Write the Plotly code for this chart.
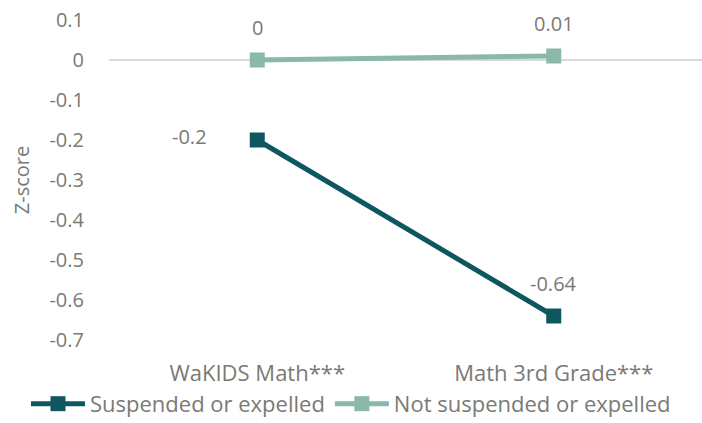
import plotly.graph_objects as go

categories = ["WaKIDS Math***", "Math 3rd Grade***"]
suspended = [-0.2, -0.64]
not_suspended = [0.0, 0.01]
suspended_labels = ["-0.2", "-0.64"]
not_suspended_labels = ["0", "0.01"]
y_ticks = [0.1, 0, -0.1, -0.2, -0.3, -0.4, -0.5, -0.6, -0.7]

DARK = "#0E5761"
LIGHT = "#8AB8AB"
GREY = "#7A7A75"
FONT = "Open Sans"

fig = go.Figure()
fig.add_trace(go.Scatter(
    x=categories, y=suspended, name="Suspended or expelled",
    mode="lines+markers",
    line=dict(color=DARK, width=5),
    marker=dict(symbol="square", size=15, color=DARK),
))
fig.add_trace(go.Scatter(
    x=categories, y=not_suspended, name="Not suspended or expelled",
    mode="lines+markers",
    line=dict(color=LIGHT, width=5),
    marker=dict(symbol="square", size=15, color=LIGHT),
))

label_font = dict(size=20, color=GREY, family=FONT)
# value labels
fig.add_annotation(x=categories[0], y=suspended[0], text=suspended_labels[0],
                   showarrow=False, xanchor="right", xshift=-48, yshift=4,
                   font=label_font)
fig.add_annotation(x=categories[1], y=suspended[1], text=suspended_labels[1],
                   showarrow=False, yanchor="bottom", yshift=17,
                   font=label_font)
for c, v, t in zip(categories, not_suspended, not_suspended_labels):
    fig.add_annotation(x=c, y=v, text=t, showarrow=False, yanchor="bottom",
                       yshift=17, font=label_font)

fig.update_layout(
    width=702, height=423,
    margin=dict(l=109, r=0, t=20, b=83, autoexpand=False),
    plot_bgcolor="white", paper_bgcolor="white",
    font=dict(family=FONT, size=20, color=GREY),
    showlegend=True,
    legend=dict(orientation="h", x=-0.14, xanchor="left", y=-0.134, yanchor="top",
                font=dict(size=22, color=GREY), itemwidth=54,
                traceorder="normal", tracegroupgap=0, borderwidth=0),
    xaxis=dict(range=[-0.5, 1.5], showgrid=False, zeroline=False, showline=False,
               ticks="", tickfont=dict(size=22, color=GREY), ticklabelstandoff=18),
    yaxis=dict(range=[-0.7, 0.1], tickvals=y_ticks,
               ticktext=[("%g" % v) for v in y_ticks],
               showgrid=False, zeroline=True, zerolinecolor="#D9D9D9", zerolinewidth=1.5,
               showline=False, ticks="", tickfont=dict(size=20, color=GREY),
               ticklabelstandoff=24,
               title=dict(text="Z-score", font=dict(size=20, color=GREY), standoff=14)),
)

fig.write_html("out.html")
